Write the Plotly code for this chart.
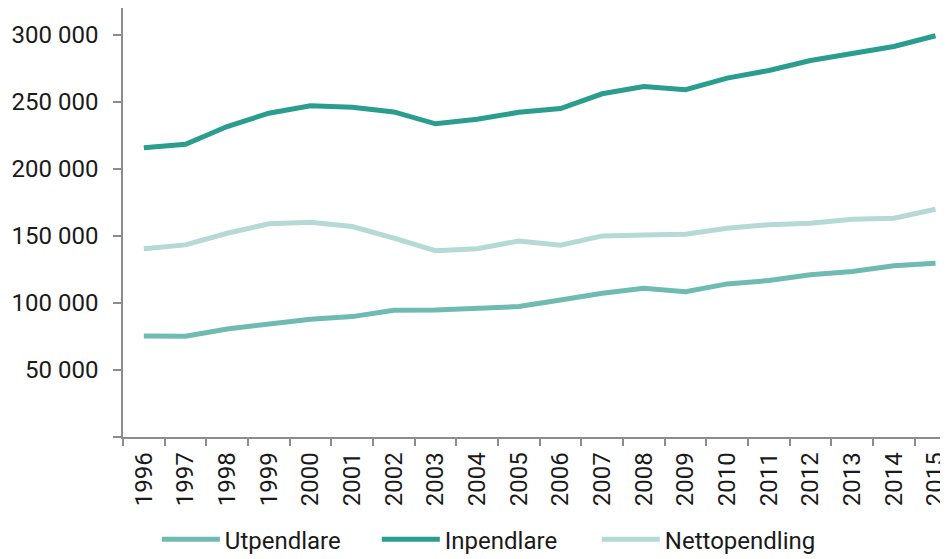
import plotly.graph_objects as go

years = [str(y) for y in range(1996, 2016)]
utpendlare = [75400, 75200, 80600, 83800, 87800, 89800, 94500, 94800, 96500, 97300,
              102200, 107200, 111000, 108400, 114200, 116700, 121100, 123400, 127800, 129600]
inpendlare = [215700, 218400, 231600, 241500, 247000, 246000, 242500, 233600, 237000, 242200,
              245000, 256000, 261400, 259000, 267700, 273400, 280800, 286300, 291300, 299300]
nettopendling = [140500, 143300, 152000, 159000, 160200, 157000, 148300, 139000, 140500, 146200,
                 143000, 150000, 150700, 151200, 155700, 158400, 159500, 162400, 163200, 169900]
y_tickvals = [0, 50000, 100000, 150000, 200000, 250000, 300000]
y_ticktext = ["", "50 000", "100 000", "150 000", "200 000", "250 000", "300 000"]

series = [
    ("Utpendlare", utpendlare, "#6fbbb1"),
    ("Inpendlare", inpendlare, "#2a9d8f"),
    ("Nettopendling", nettopendling, "#b5d9d4"),
]

fig = go.Figure()
for name, vals, color in series:
    fig.add_trace(go.Scatter(x=years, y=vals, name=name, mode="lines",
                             line=dict(color=color, width=5)))

font = "Roboto, Arial, sans-serif"
fig.update_layout(
    width=940, height=551,
    margin=dict(l=115, r=0, t=0, b=122, autoexpand=False),
    paper_bgcolor="white", plot_bgcolor="white",
    font=dict(family=font, size=24, color="#1a1a1a"),
    showlegend=True,
    legend=dict(orientation="h", x=0.441, xanchor="center", y=-0.187, yanchor="top",
                font=dict(size=24), itemwidth=58, entrywidth=147),
    xaxis=dict(type="category", range=[-0.5, 19.3], showline=True, linecolor="#8c8c8c",
               linewidth=1.5, ticks="outside", tickson="boundaries", ticklen=7,
               tickcolor="#8c8c8c", tickwidth=1.5, tickangle=-90, showgrid=False,
               zeroline=False, tickfont=dict(size=24), automargin=False,
               ticklabelstandoff=4),
    yaxis=dict(range=[0, 320000], tickvals=y_tickvals, ticktext=y_ticktext,
               showline=True, linecolor="#8c8c8c", linewidth=1.5, ticks="outside",
               ticklen=8, tickcolor="#8c8c8c", tickwidth=1.5, showgrid=False,
               zeroline=False, tickfont=dict(size=24), ticklabelstandoff=10,
               automargin=False),
)
fig.write_html("out.html")
